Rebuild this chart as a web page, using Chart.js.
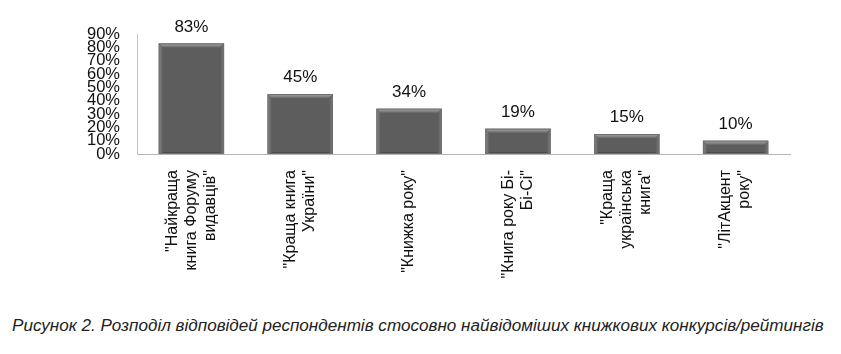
<!DOCTYPE html>
<html>
<head>
<meta charset="utf-8">
<script src="https://cdn.jsdelivr.net/npm/chart.js@4"></script>
<style>
  body { margin: 0; background: #fff; width: 841px; height: 354px; overflow: hidden; position: relative; }
  #wrap { position: absolute; left: 0; top: 0; width: 841px; height: 310px; }
  #caption { position: absolute; left: 12px; top: 316px; font-family: "Liberation Sans", Arial, sans-serif;
             font-style: italic; font-size: 17.1px; color: #222; white-space: nowrap; }
</style>
</head>
<body>
<div id="wrap"><canvas id="chart"></canvas></div>
<div id="caption">Рисунок 2. Розподіл відповідей респондентів стосовно найвідоміших книжкових конкурсів/рейтингів</div>
<script>
// дані з рисунка
const categories = [
    ['"Найкраща', 'книга Форуму', 'видавців"'],
    ['"Краща книга', 'України"'],
    ['"Книжка року"'],
    ['"Книга року Бі-', 'Бі-Сі"'],
    ['"Краща', 'українська', 'книга"'],
    ['"ЛітАкцент', 'року"']
];
const shares = [83, 45, 34, 19, 15, 10];
const yTicks = [0, 10, 20, 30, 40, 50, 60, 70, 80, 90];

const FONT = '"Liberation Sans", Arial, sans-serif';

// підписи значень над стовпчиками
const valueLabels = {
    id: 'valueLabels',
    afterDatasetsDraw(chart) {
        const ctx = chart.ctx;
        const meta = chart.getDatasetMeta(0);
        ctx.save();
        ctx.font = '17px ' + FONT;
        ctx.fillStyle = '#111';
        ctx.textAlign = 'center';
        ctx.textBaseline = 'bottom';
        meta.data.forEach((bar, i) => {
            ctx.fillText(shares[i] + '%', bar.x, bar.y - 8);
        });
        ctx.restore();
    }
};

// об'ємний ефект стовпчиків
const bevel = {
    id: 'bevel',
    afterDatasetsDraw(chart) {
        const ctx = chart.ctx;
        const meta = chart.getDatasetMeta(0);
        ctx.save();
        meta.data.forEach(bar => {
            const l = bar.x - bar.width / 2, r = bar.x + bar.width / 2;
            const t = bar.y, b = bar.base;
            const e = 4;
            // верх
            let g = ctx.createLinearGradient(0, t, 0, t + e);
            g.addColorStop(0, '#a8a8a8');
            g.addColorStop(1, '#6e6e6e');
            ctx.fillStyle = g;
            ctx.beginPath();
            ctx.moveTo(l, t); ctx.lineTo(r, t); ctx.lineTo(r - e, t + e); ctx.lineTo(l + e, t + e);
            ctx.closePath(); ctx.fill();
            // ліва грань
            g = ctx.createLinearGradient(l, 0, l + e, 0);
            g.addColorStop(0, '#8a8a8a');
            g.addColorStop(1, '#606060');
            ctx.fillStyle = g;
            ctx.beginPath();
            ctx.moveTo(l, t); ctx.lineTo(l + e, t + e); ctx.lineTo(l + e, b - 2); ctx.lineTo(l, b);
            ctx.closePath(); ctx.fill();
            // права грань
            g = ctx.createLinearGradient(r, 0, r - e, 0);
            g.addColorStop(0, '#7c7c7c');
            g.addColorStop(1, '#5c5c5c');
            ctx.fillStyle = g;
            ctx.beginPath();
            ctx.moveTo(r, t); ctx.lineTo(r - e, t + e); ctx.lineTo(r - e, b - 2); ctx.lineTo(r, b);
            ctx.closePath(); ctx.fill();
            // низ
            ctx.fillStyle = '#4c4c4c';
            ctx.fillRect(l + e, b - 2, bar.width - 2 * e, 2);
            ctx.strokeStyle = '#707070';
            ctx.lineWidth = 1;
            ctx.strokeRect(l + 0.5, t + 0.5, bar.width - 1, b - t - 1);
        });
        ctx.restore();
    }
};

// повернуті підписи категорій (читаються знизу вгору)
const catLabels = {
    id: 'catLabels',
    afterDraw(chart) {
        const ctx = chart.ctx;
        const xs = chart.scales.x;
        const top = xs.top + 16;
        const lh = 19;
        ctx.save();
        ctx.font = '16px ' + FONT;
        ctx.fillStyle = '#111';
        ctx.textAlign = 'right';
        ctx.textBaseline = 'middle';
        categories.forEach((lines, i) => {
            const x = xs.getPixelForValue(i);
            ctx.save();
            ctx.translate(x, top);
            ctx.rotate(-Math.PI / 2);
            lines.forEach((ln, j) => {
                ctx.fillText(ln, 0, (j - (lines.length - 1) / 2) * lh);
            });
            ctx.restore();
        });
        ctx.restore();
    }
};

new Chart(document.getElementById('chart'), {
    type: 'bar',
    data: {
        labels: categories,
        datasets: [{
            data: shares,
            backgroundColor: '#5d5d5d',
            borderWidth: 0,
            barPercentage: 0.6,
            categoryPercentage: 1.0
        }]
    },
    options: {
        responsive: true,
        maintainAspectRatio: false,
        animation: false,
        layout: { padding: { left: 0, right: 51, top: 34, bottom: 156 } },
        plugins: { legend: { display: false }, tooltip: { enabled: false } },
        scales: {
            x: {
                grid: { display: false, drawTicks: false },
                border: { display: true, color: '#b4b4b4', width: 1 },
                ticks: { display: false },
                afterFit: s => { s.height = 0; }
            },
            y: {
                min: yTicks[0],
                max: yTicks[yTicks.length - 1],
                grid: { display: false, drawTicks: false },
                border: { display: true, color: '#c4c4c4', width: 1 },
                afterBuildTicks: s => { s.ticks = yTicks.map(v => ({ value: v })); },
                afterFit: s => { s.width = 137; },
                ticks: {
                    autoSkip: false,
                    padding: 17,
                    color: '#111',
                    font: { family: FONT, size: 16.5, lineHeight: 1 },
                    callback: v => v + '%'
                }
            }
        }
    },
    plugins: [bevel, valueLabels, catLabels]
});
</script>
</body>
</html>
